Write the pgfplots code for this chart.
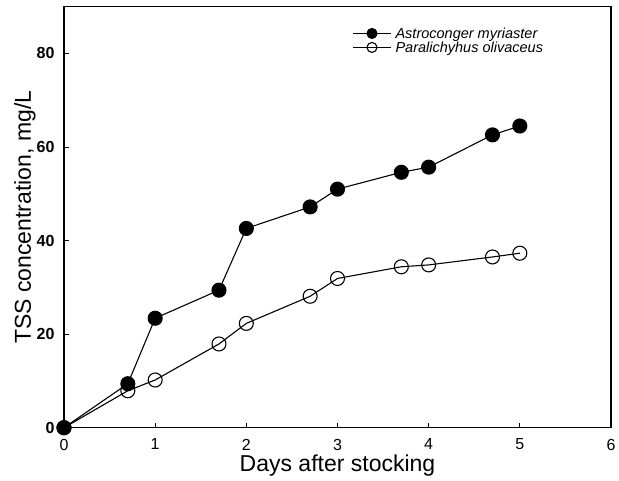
\documentclass[border=0pt]{standalone}
\usepackage{pgfplots}
\pgfplotsset{compat=1.18}
\usepackage{fontspec}
\setmainfont{Liberation Sans}
\begin{document}
\begin{tikzpicture}[x=1pt,y=1pt]
\path (0,0) rectangle (619,480);
\begin{axis}[
  at={(64pt,52.3pt)}, anchor=south west,
  scale only axis, width=547pt, height=421pt,
  xmin=0, xmax=6, ymin=0, ymax=90,
  xtick={0,1,2,3,4,5,6}, ytick={0,20,40,60,80},
  xtick pos=left, ytick pos=left, tick align=inside,
  major tick length=5pt,
  axis line style={line width=1.3pt},
  every tick/.style={line width=1pt, black},
  /pgf/number format/assume math mode=true,
  xticklabel style={font=\fontsize{16}{18}\selectfont, inner sep=0pt, yshift=-11pt},
  yticklabel style={font=\fontsize{16}{18}\selectfont\bfseries, xshift=-6pt},
  xlabel={Days after stocking},
  ylabel={TSS concentration, mg/L},
  label style={font=\fontsize{23}{26}\selectfont},
  xlabel style={at={(axis description cs:0.5,0)}, anchor=base, yshift=-44pt, inner sep=0pt},
  ylabel style={at={(axis description cs:0,0.5)}, anchor=base, yshift=33pt},
  clip=false,
  legend style={draw=none, fill=none, at={(0.527,0.95)}, anchor=north west,
    font=\fontsize{14.5}{14}\selectfont\itshape, row sep=0pt, column sep=4pt, inner sep=0pt,
    nodes={inner sep=0pt, text height=10.5pt, text depth=3.5pt}},
  legend cell align=left,
  legend image code/.code={\draw[mark repeat=2,mark phase=2,mark size=5pt, yshift=1.5pt] plot coordinates {(0pt,0pt)(19pt,0pt)(38pt,0pt)};},
]
\addplot[black, line width=1.1pt, mark=*, mark size=7pt, mark options={fill=black}]
coordinates {(0,0) (0.7,9.4) (1,23.4) (1.7,29.4) (2,42.6) (2.7,47.2) (3,51.0) (3.7,54.6) (4,55.7) (4.7,62.6) (5,64.5)};
\addlegendentry{Astroconger myriaster}
\addplot[black, line width=1.1pt, mark=o, mark size=7pt, mark options={fill=white, line width=1.1pt}]
coordinates {(0,0) (0.7,7.9) (1,10.2) (1.7,17.9) (2,22.3) (2.7,28.1) (3,31.9) (3.7,34.4) (4,34.8) (4.7,36.5) (5,37.3)};
\addlegendentry{Paralichyhus olivaceus}
\end{axis}
\end{tikzpicture}
\end{document}
